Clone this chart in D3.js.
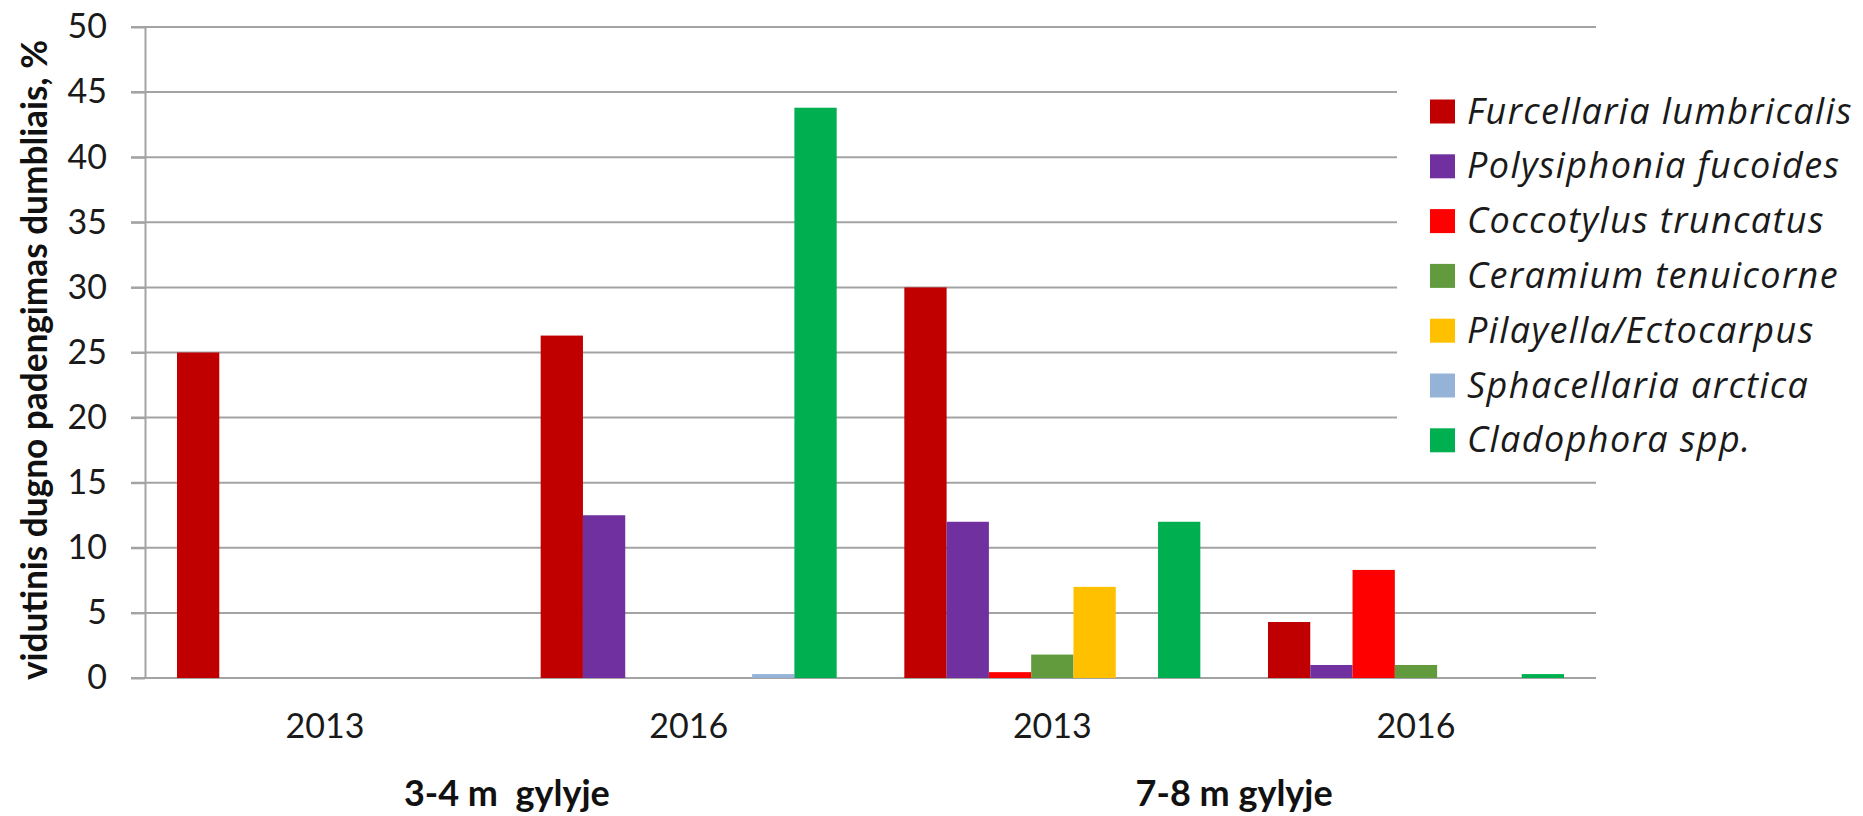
<!DOCTYPE html>
<html>
<head>
<meta charset="utf-8">
<script src="https://cdn.jsdelivr.net/npm/d3@7"></script>
<style>
  html, body { margin: 0; padding: 0; background: #fff; }
  svg { display: block; }
  .axis text { font-family: Lato, "Open Sans", sans-serif; fill: #1a1a1a; }
</style>
</head>
<body>
<div id="chart"></div>
<script>
// groups along the x axis (two depths, two years each)
const years = ["2013", "2016", "2013", "2016"];
const depths = ["3-4 m\u00a0\u00a0gylyje", "7-8 m gylyje"];

const species = [
    "Furcellaria lumbricalis",
    "Polysiphonia fucoides",
    "Coccotylus truncatus",
    "Ceramium tenuicorne",
    "Pilayella/Ectocarpus",
    "Sphacellaria arctica",
    "Cladophora spp."
];
const colors = ["#c00000", "#7030a0", "#ff0000", "#629b3e", "#ffc000", "#95b3d7", "#00b050"];

// values per species, one per group (3-4m 2013, 3-4m 2016, 7-8m 2013, 7-8m 2016)
const furcellaria = [25, 26.3, 30, 4.3];
const polysiphonia = [0, 12.5, 12, 1.0];
const coccotylus = [0, 0, 0.45, 8.3];
const ceramium = [0, 0, 1.8, 1.0];
const pilayella = [0, 0, 7, 0];
const sphacellaria = [0, 0.3, 0, 0];
const cladophora = [0, 43.8, 12, 0.3];

const yTicks = [0, 5, 10, 15, 20, 25, 30, 35, 40, 45, 50];

const series = [furcellaria, polysiphonia, coccotylus, ceramium, pilayella, sphacellaria, cladophora];

const W = 1863, H = 816;
const plotLeft = 145, plotRight = 1596, plotTop = 27, plotBottom = 678;

const svg = d3.select("#chart").append("svg")
    .attr("width", W)
    .attr("height", H);

const x0 = d3.scaleBand()
    .domain(d3.range(years.length))
    .range([plotLeft, plotRight])
    .paddingInner(0.186)
    .paddingOuter(0.088);

const x1 = d3.scaleBand()
    .domain(d3.range(species.length))
    .range([0, x0.bandwidth()]);

const y = d3.scaleLinear()
    .domain([0, 50])
    .range([plotBottom, plotTop]);

// gridlines
svg.append("g")
    .selectAll("line")
    .data(yTicks)
    .join("line")
    .attr("x1", plotLeft - 14)
    .attr("x2", plotRight)
    .attr("y1", d => y(d))
    .attr("y2", d => y(d))
    .style("stroke", "#a3a3a3")
    .style("stroke-width", 2);

// y axis
const yAxis = svg.append("g")
    .attr("class", "axis")
    .attr("transform", `translate(${plotLeft},0)`)
    .call(d3.axisLeft(y).tickValues(yTicks).tickSizeInner(14).tickSizeOuter(0).tickPadding(24));
yAxis.select(".domain").style("stroke", "#a3a3a3").style("stroke-width", 2);
yAxis.selectAll(".tick line").style("stroke", "#a3a3a3").style("stroke-width", 2);
yAxis.selectAll("text").style("font-size", "34px");

// bars
const groups = svg.append("g")
    .selectAll("g")
    .data(years.map((yr, i) => i))
    .join("g")
    .attr("transform", i => `translate(${x0(i)},0)`);

groups.selectAll("rect")
    .data(i => series.map((s, k) => ({k: k, v: s[i]})).filter(d => d.v > 0))
    .join("rect")
    .attr("x", d => x1(d.k))
    .attr("width", x1.bandwidth())
    .attr("y", d => y(d.v))
    .attr("height", d => y(0) - y(d.v))
    .style("fill", d => colors[d.k]);

// x axis (year labels)
const xAxis = svg.append("g")
    .attr("class", "axis")
    .attr("transform", `translate(0,${plotBottom})`)
    .call(d3.axisBottom(x0).tickSize(0).tickPadding(36).tickFormat(i => years[i]));
xAxis.select(".domain").remove();
xAxis.selectAll("text").style("font-size", "34px");

// depth labels under each pair of years
svg.append("g")
    .selectAll("text")
    .data(depths)
    .join("text")
    .attr("x", (d, i) => (x0(i * 2) + x0(i * 2 + 1) + x0.bandwidth()) / 2)
    .attr("y", 806)
    .attr("text-anchor", "middle")
    .style("font-family", "Lato, 'Open Sans', sans-serif")
    .style("font-weight", "bold")
    .style("font-size", "36px")
    .style("fill", "#111")
    .text(d => d);

// y axis title
svg.append("text")
    .attr("transform", `translate(47,${(40 + 680) / 2}) rotate(-90)`)
    .attr("text-anchor", "middle")
    .attr("textLength", 640)
    .attr("lengthAdjust", "spacingAndGlyphs")
    .style("font-family", "Lato, 'Open Sans', sans-serif")
    .style("font-weight", "bold")
    .style("font-size", "37px")
    .style("fill", "#111")
    .text("vidutinis dugno padengimas dumbliais, %");

// legend
const legend = svg.append("g");
legend.append("rect")
    .attr("x", 1397)
    .attr("y", 60)
    .attr("width", W - 1397)
    .attr("height", 410)
    .style("fill", "#fff");

const item = legend.selectAll("g.item")
    .data(species)
    .join("g")
    .attr("class", "item")
    .attr("transform", (d, i) => `translate(1430,${111.5 + i * 54.8})`);

item.append("rect")
    .attr("x", 0)
    .attr("y", -12)
    .attr("width", 25)
    .attr("height", 24)
    .style("fill", (d, i) => colors[i]);

item.append("text")
    .attr("x", 37)
    .attr("y", 12)
    .style("font-family", "'Open Sans', Lato, sans-serif")
    .style("font-style", "italic")
    .style("font-size", "36px")
    .style("letter-spacing", "1.4px")
    .style("fill", "#1a1a1a")
    .text(d => d);
</script>
</body>
</html>
